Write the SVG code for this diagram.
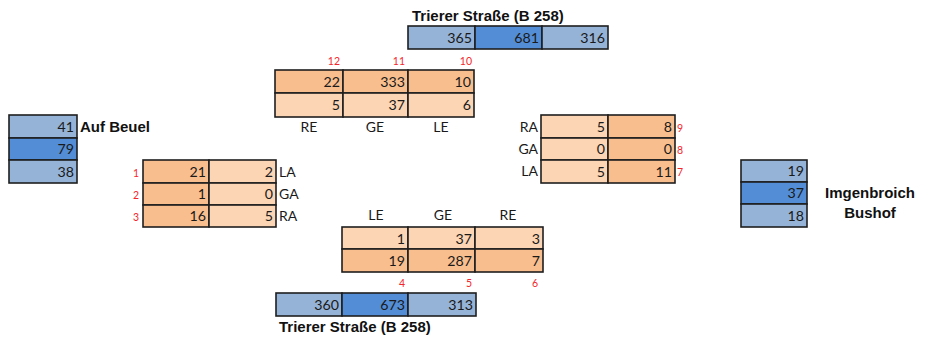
<svg xmlns="http://www.w3.org/2000/svg" width="928" height="338" viewBox="0 0 928 338">
  <style>
    .bg { fill: #ffffff; }
    .cell { stroke: #1e1e1e; stroke-width: 1.6; }
    .b1 { fill: #95B3D7; }
    .b2 { fill: #538DD5; }
    .o1 { fill: #F9BE8E; }
    .o2 { fill: #FCD5B4; }
    .num { font-family: Lato, "Liberation Sans", sans-serif; font-size: 14.2px; fill: #1a1a1a; text-anchor: end; }
    .lab { font-family: Lato, "Liberation Sans", sans-serif; font-size: 14px; fill: #1a1a1a; }
    .mid { text-anchor: middle; }
    .end { text-anchor: end; }
    .idx { font-family: Lato, "Liberation Sans", sans-serif; font-size: 10.5px; fill: #F5262B; }
    .name { font-family: "Liberation Sans", Arial, sans-serif; font-size: 15px; font-weight: bold; fill: #111111; }
  </style>
  <rect class="bg" x="0" y="0" width="928" height="338"/>

  <!-- north approach: totals -->
  <g id="north-totals">
    <text class="name" x="412" y="21">Trierer Straße (B 258)</text>
    <rect class="cell b1" x="408" y="26" width="67" height="23"/>
    <rect class="cell b2" x="475" y="26" width="67" height="23"/>
    <rect class="cell b1" x="542" y="26" width="66" height="23"/>
    <text class="num" x="472" y="42.5">365</text>
    <text class="num" x="539" y="42.5">681</text>
    <text class="num" x="605" y="42.5">316</text>
  </g>

  <!-- north approach: turning movements 10-12 -->
  <g id="north-turns">
    <text class="idx end" x="340" y="65">12</text>
    <text class="idx end" x="405" y="65">11</text>
    <text class="idx end" x="472" y="65">10</text>
    <rect class="cell o1" x="275" y="70" width="68" height="23"/>
    <rect class="cell o1" x="343" y="70" width="65" height="23"/>
    <rect class="cell o1" x="408" y="70" width="66" height="23"/>
    <rect class="cell o2" x="275" y="93" width="68" height="24"/>
    <rect class="cell o2" x="343" y="93" width="65" height="24"/>
    <rect class="cell o2" x="408" y="93" width="66" height="24"/>
    <text class="num" x="340" y="86.5">22</text>
    <text class="num" x="405" y="86.5">333</text>
    <text class="num" x="471" y="86.5">10</text>
    <text class="num" x="340" y="110">5</text>
    <text class="num" x="405" y="110">37</text>
    <text class="num" x="471" y="110">6</text>
    <text class="lab mid" x="309" y="132">RE</text>
    <text class="lab mid" x="375" y="132">GE</text>
    <text class="lab mid" x="441" y="132">LE</text>
  </g>

  <!-- west approach: totals -->
  <g id="west-totals">
    <rect class="cell b1" x="9" y="115" width="68" height="23"/>
    <rect class="cell b2" x="9" y="138" width="68" height="22"/>
    <rect class="cell b1" x="9" y="160" width="68" height="23"/>
    <text class="num" x="74" y="131.5">41</text>
    <text class="num" x="74" y="154">79</text>
    <text class="num" x="74" y="176.5">38</text>
    <text class="name" x="80" y="132">Auf Beuel</text>
  </g>

  <!-- west approach: turning movements 1-3 -->
  <g id="west-turns">
    <rect class="cell o1" x="143" y="160" width="66" height="23"/>
    <rect class="cell o2" x="209" y="160" width="67" height="23"/>
    <rect class="cell o1" x="143" y="183" width="66" height="22"/>
    <rect class="cell o2" x="209" y="183" width="67" height="22"/>
    <rect class="cell o1" x="143" y="205" width="66" height="22"/>
    <rect class="cell o2" x="209" y="205" width="67" height="22"/>
    <text class="num" x="206" y="177">21</text>
    <text class="num" x="273" y="177">2</text>
    <text class="num" x="206" y="199">1</text>
    <text class="num" x="273" y="199">0</text>
    <text class="num" x="206" y="221">16</text>
    <text class="num" x="273" y="221">5</text>
    <text class="lab" x="279" y="177">LA</text>
    <text class="lab" x="279" y="199">GA</text>
    <text class="lab" x="279" y="221">RA</text>
    <text class="idx end" x="139" y="177">1</text>
    <text class="idx end" x="139" y="199">2</text>
    <text class="idx end" x="139" y="221">3</text>
  </g>

  <!-- east approach: turning movements 7-9 -->
  <g id="east-turns">
    <rect class="cell o2" x="541" y="115" width="67" height="23"/>
    <rect class="cell o1" x="608" y="115" width="67" height="23"/>
    <rect class="cell o2" x="541" y="138" width="67" height="22"/>
    <rect class="cell o1" x="608" y="138" width="67" height="22"/>
    <rect class="cell o2" x="541" y="160" width="67" height="23"/>
    <rect class="cell o1" x="608" y="160" width="67" height="23"/>
    <text class="num" x="605" y="131.5">5</text>
    <text class="num" x="672" y="131.5">8</text>
    <text class="num" x="605" y="154">0</text>
    <text class="num" x="672" y="154">0</text>
    <text class="num" x="605" y="176.5">5</text>
    <text class="num" x="672" y="176.5">11</text>
    <text class="lab end" x="538" y="132">RA</text>
    <text class="lab end" x="538" y="154">GA</text>
    <text class="lab end" x="538" y="176">LA</text>
    <text class="idx" x="677" y="132">9</text>
    <text class="idx" x="677" y="154">8</text>
    <text class="idx" x="677" y="176">7</text>
  </g>

  <!-- east approach: totals -->
  <g id="east-totals">
    <rect class="cell b1" x="741" y="160" width="66" height="22"/>
    <rect class="cell b2" x="741" y="182" width="66" height="22"/>
    <rect class="cell b1" x="741" y="204" width="66" height="23"/>
    <text class="num" x="804" y="176">19</text>
    <text class="num" x="804" y="198">37</text>
    <text class="num" x="804" y="221">18</text>
    <text class="name mid" x="870" y="198">Imgenbroich</text>
    <text class="name mid" x="870" y="218">Bushof</text>
  </g>

  <!-- south approach: turning movements 4-6 -->
  <g id="south-turns">
    <text class="lab mid" x="376" y="220">LE</text>
    <text class="lab mid" x="443" y="220">GE</text>
    <text class="lab mid" x="508" y="220">RE</text>
    <rect class="cell o2" x="342" y="227" width="66" height="22"/>
    <rect class="cell o2" x="408" y="227" width="67" height="22"/>
    <rect class="cell o2" x="475" y="227" width="68" height="22"/>
    <rect class="cell o1" x="342" y="249" width="66" height="23"/>
    <rect class="cell o1" x="408" y="249" width="67" height="23"/>
    <rect class="cell o1" x="475" y="249" width="68" height="23"/>
    <text class="num" x="405" y="243.5">1</text>
    <text class="num" x="472" y="243.5">37</text>
    <text class="num" x="540" y="243.5">3</text>
    <text class="num" x="405" y="266">19</text>
    <text class="num" x="472" y="266">287</text>
    <text class="num" x="540" y="266">7</text>
    <text class="idx end" x="405" y="287">4</text>
    <text class="idx end" x="472" y="287">5</text>
    <text class="idx end" x="538" y="287">6</text>
  </g>

  <!-- south approach: totals -->
  <g id="south-totals">
    <rect class="cell b1" x="276" y="293" width="66" height="23"/>
    <rect class="cell b2" x="342" y="293" width="66" height="23"/>
    <rect class="cell b1" x="408" y="293" width="68" height="23"/>
    <text class="num" x="339" y="309.5">360</text>
    <text class="num" x="405" y="309.5">673</text>
    <text class="num" x="473" y="309.5">313</text>
    <text class="name" x="279" y="332">Trierer Straße (B 258)</text>
  </g>

  <!-- no connectors in this figure -->
  <g id="connectors"/>
</svg>
